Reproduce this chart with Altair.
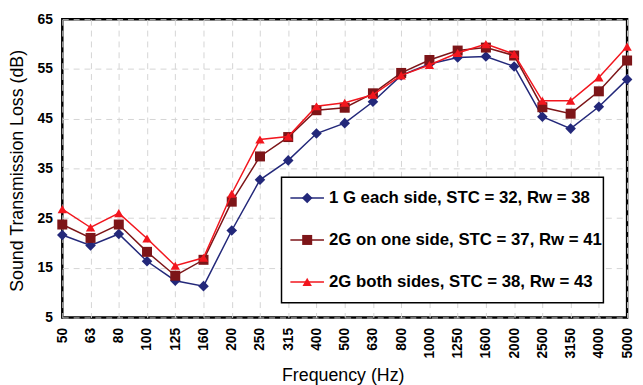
import altair as alt
import pandas as pd

freqs = ["50", "63", "80", "100", "125", "160", "200", "250", "315", "400", "500",
         "630", "800", "1000", "1250", "1600", "2000", "2500", "3150", "4000", "5000"]
s1 = [21.6, 19.5, 21.8, 16.3, 12.4, 11.3, 22.5, 32.7, 36.6, 42.0, 44.1,
      48.4, 53.7, 56.0, 57.3, 57.5, 55.5, 45.4, 43.0, 47.4, 52.9]
s2 = [23.7, 21.0, 23.7, 18.2, 13.4, 16.6, 28.3, 37.4, 41.3, 46.7, 47.2,
      50.1, 54.2, 56.8, 58.7, 59.3, 57.7, 47.3, 46.0, 50.5, 56.7]
s3 = [26.8, 23.1, 26.0, 20.9, 15.4, 17.0, 29.9, 40.8, 41.4, 47.5, 48.2,
      49.8, 53.7, 55.8, 58.2, 60.0, 58.0, 48.6, 48.6, 53.3, 59.5]
series_names = ["1 G each side, STC = 32, Rw = 38",
                "2G on one side, STC = 37, Rw = 41",
                "2G both sides, STC = 38, Rw = 43"]
colors = ["#23287A", "#7D1518", "#F2161E"]
shapes = ["diamond", "square", "triangle-up"]
sizes = [115, 90, 210]
y_ticks = [5, 15, 25, 35, 45, 55, 65]

rows = []
for name, vals in zip(series_names, [s1, s2, s3]):
    for f, v in zip(freqs, vals):
        rows.append({"freq": f, "series": name, "value": v})
df = pd.DataFrame(rows)
leg_df = pd.DataFrame({"series": series_names})

FONT = "Liberation Sans"
color_scale = alt.Scale(domain=series_names, range=colors)
shape_scale = alt.Scale(domain=series_names, range=shapes)
size_scale = alt.Scale(domain=series_names, range=sizes)

x_enc = alt.X("freq:N", sort=freqs, scale=alt.Scale(type="point", padding=0),
              axis=alt.Axis(title="Frequency (Hz)", labelAngle=-90, labelPadding=10,
                            labelFontSize=14, labelFontWeight="bold", labelFont=FONT,
                            labelColor="black", titleFont=FONT, titleFontSize=18,
                            titleFontWeight="normal", titleColor="black",
                            titleX=284, titleY=64, titleBaseline="alphabetic",
                            grid=True, gridDash=[6, 5], gridColor="#D4D4D4",
                            domain=False, ticks=False))
y_enc = alt.Y("value:Q", scale=alt.Scale(domain=[5, 65], nice=False, zero=False),
              axis=alt.Axis(title="Sound Transmission Loss (dB)", values=y_ticks,
                            labelPadding=10, labelFontSize=14, labelFontWeight="bold",
                            labelFont=FONT, labelColor="black", titleFont=FONT,
                            titleFontSize=18, titleFontWeight="normal", titleColor="black",
                            titleAngle=-90, titleX=-45.5, titleY=153,
                            titleAlign="center", titleBaseline="middle",
                            grid=True, gridDash=[6, 5], gridColor="#D4D4D4",
                            domain=False, ticks=False))
color_enc = alt.Color("series:N", scale=color_scale, legend=None)

lines = alt.Chart(df).mark_line(strokeWidth=1.5, clip=False).encode(
    x=x_enc, y=y_enc, color=color_enc)
points = alt.Chart(df).mark_point(filled=True, opacity=1, clip=False).encode(
    x=x_enc, y=y_enc, color=color_enc,
    shape=alt.Shape("series:N", scale=shape_scale, legend=None),
    size=alt.Size("series:N", scale=size_scale, legend=None))

main = alt.layer(*[
    alt.layer(
        lines.transform_filter(alt.datum.series == n),
        points.transform_filter(alt.datum.series == n))
    for n in series_names
])

leg_y = alt.Y("series:N", sort=series_names,
              scale=alt.Scale(type="point", domain=series_names, range=[181, 266], padding=0),
              axis=None)
box = alt.Chart(pd.DataFrame({"a": [1]})).mark_rect(
    fill="white", stroke="black", strokeWidth=1.5).encode(
    x=alt.value(222), x2=alt.value(548), y=alt.value(160), y2=alt.value(287))
leg_rules = alt.Chart(leg_df).mark_rule(strokeWidth=1.5).encode(
    x=alt.value(231), x2=alt.value(265), y=leg_y, color=color_enc)
leg_pts = alt.Chart(leg_df).mark_point(filled=True, opacity=1).encode(
    x=alt.value(248), y=leg_y, color=color_enc,
    shape=alt.Shape("series:N", scale=shape_scale, legend=None),
    size=alt.Size("series:N", scale=size_scale, legend=None))
leg_text = alt.Chart(leg_df).mark_text(
    align="left", baseline="middle", font=FONT, fontSize=17, fontWeight="bold",
    color="black").encode(x=alt.value(270), y=leg_y, text="series:N")
legend = alt.layer(box, leg_rules, leg_pts, leg_text)

chart = alt.layer(main, legend).resolve_scale(y="independent").properties(
    width=572, height=302,
    autosize=alt.AutoSizeParams(type="none"),
    padding={"left": 55, "top": 9, "right": 8, "bottom": 66},
).configure(background="white").configure_view(stroke="black", strokeWidth=2.5)

chart.save("out.html", embed_options={"renderer": "svg", "actions": False})
